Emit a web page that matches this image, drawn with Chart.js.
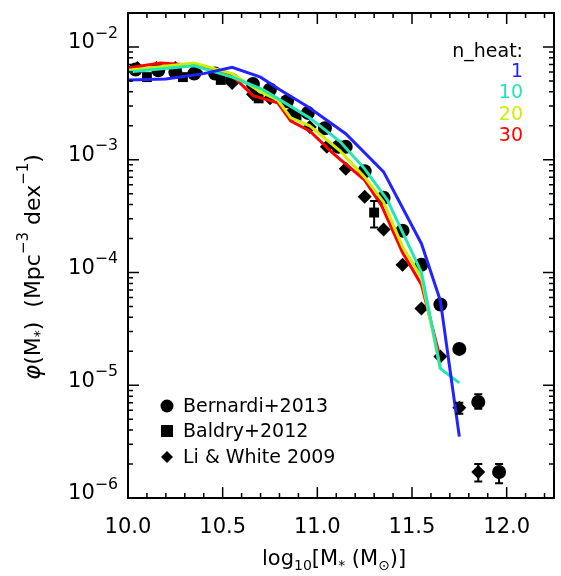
<!DOCTYPE html>
<html><head><meta charset="utf-8">
<script src="https://cdn.jsdelivr.net/npm/chart.js@4.4.0/dist/chart.umd.min.js"></script>
<style>html,body{margin:0;padding:0;background:#fff}#w{width:561px;height:576px}</style>
</head><body><div id="w"><canvas id="c"></canvas></div>
<script>
const blueX=[10.0,10.2,10.4,10.55,10.7,10.8,10.95,11.15,11.35,11.55,11.65,11.75];
const blueY=[5.1e-3,5.2e-3,5.8e-3,6.6e-3,5.4e-3,4.2e-3,2.95e-3,1.7e-3,7.8e-4,1.8e-4,5.6e-5,3.5e-6];
const cyanX=[10.0,10.35,10.55,10.71,10.79,10.96,11.12,11.25,11.37,11.55,11.65,11.75];
const cyanY=[6.0e-3,6.8e-3,5.4e-3,4.2e-3,3.5e-3,2.35e-3,1.45e-3,8.3e-4,4.4e-4,1.0e-4,1.4e-5,1.05e-5];
const yelX=[10.0,10.35,10.55,10.7,10.79,10.86,10.96,11.12,11.25,11.35,11.45,11.55,11.65];
const yelY=[6.2e-3,7.2e-3,5.8e-3,4.0e-3,3.4e-3,2.35e-3,2.0e-3,1.2e-3,7.0e-4,4.2e-4,1.7e-4,9.0e-5,1.4e-5];
const redX=[10.0,10.17,10.35,10.55,10.66,10.79,10.86,10.96,11.08,11.25,11.34,11.45,11.55,11.64];
const redY=[6.5e-3,7.2e-3,6.9e-3,5.6e-3,3.7e-3,3.2e-3,2.2e-3,1.8e-3,1.15e-3,6.6e-4,3.9e-4,1.5e-4,7.8e-5,2.0e-5];
const berX=[10.04,10.16,10.25,10.35,10.46,10.55,10.66,10.75,10.84,10.95,11.04,11.11,11.15,11.25,11.35,11.45,11.55,11.65,11.75,11.85,11.96];
const berY=[6.3e-3,6.2e-3,6.0e-3,5.8e-3,5.8e-3,5.1e-3,4.7e-3,4.2e-3,3.3e-3,2.6e-3,1.9e-3,1.3e-3,1.3e-3,7.9e-4,4.6e-4,2.35e-4,1.17e-4,5.2e-5,2.1e-5,7.1e-6,1.7e-6];
const balX=[10.10,10.29,10.49,10.69,10.89,11.30];
const balY=[5.4e-3,5.4e-3,5.1e-3,3.5e-3,2.45e-3,3.4e-4];
const liX=[10.05,10.15,10.25,10.36,10.55,10.66,10.75,10.86,10.96,11.05,11.15,11.25,11.35,11.45,11.55,11.65,11.75,11.85];
const liY=[6.5e-3,6.5e-3,6.5e-3,6.0e-3,4.8e-3,3.8e-3,3.5e-3,2.6e-3,1.95e-3,1.3e-3,8.3e-4,4.7e-4,2.4e-4,1.17e-4,4.8e-5,1.8e-5,6.3e-6,1.7e-6];
// error bars: [x, low, high]
const errBars=[[11.85,6.2e-6,8.3e-6],[11.96,1.35e-6,2.0e-6],[11.30,2.5e-4,4.3e-4],[11.85,1.4e-6,2.0e-6],[11.75,5.6e-6,7e-6]];
const xTicks=[10.0,10.5,11.0,11.5,12.0];
const yTicks=[-2,-3,-4,-5,-6];
const heatLabels=["1","10","20","30"];
const heatColors=["#2323ff","#22e6b4","#ccf000","#ff0000"];

const pts=(xs,ys)=>xs.map((x,i)=>({x,y:ys[i]}));
const line=(xs,ys,c)=>({type:'line',data:pts(xs,ys),borderColor:c,borderWidth:3,pointRadius:0,fill:false,tension:0});
const sc=(xs,ys,s,r)=>({type:'scatter',data:pts(xs,ys),pointStyle:s,pointRadius:r,backgroundColor:'#000',borderColor:'#000',borderWidth:0});
const F='"DejaVu Sans", sans-serif';

function sup(ctx,base,ex,x,y,size){
  ctx.font=size+'px '+F; const bw=ctx.measureText(base).width;
  ctx.font=(size*0.75)+'px '+F; const ew=ctx.measureText(ex).width;
  let sx = x-bw-ew;
  ctx.font=size+'px '+F; ctx.textAlign='left'; ctx.fillText(base,sx,y);
  ctx.font=(size*0.75)+'px '+F; ctx.fillText(ex,sx+bw,y-size*0.45);
}
const deco={id:'deco',afterDraw(ch){
  const ctx=ch.ctx,a=ch.chartArea,xs=ch.scales.x,ys=ch.scales.y;
  ctx.save();ctx.strokeStyle='#000';ctx.fillStyle='#000';ctx.lineWidth=2;
  ctx.strokeRect(a.left,a.top,a.right-a.left,a.bottom-a.top);
  ctx.lineWidth=1.5;ctx.beginPath();
  for(let i=0;i<=22;i++){const v=10+i*0.1;const p=xs.getPixelForValue(v);const L=(i%5===0)?11:5;
    ctx.moveTo(p,a.bottom);ctx.lineTo(p,a.bottom-L);ctx.moveTo(p,a.top);ctx.lineTo(p,a.top+L);}
  for(let d=-6;d<=-2;d++){for(let m=1;m<=9;m++){const v=m*Math.pow(10,d);if(v>ys.max)continue;const p=ys.getPixelForValue(v);const L=m===1?11:5;
    ctx.moveTo(a.left,p);ctx.lineTo(a.left+L,p);ctx.moveTo(a.right,p);ctx.lineTo(a.right-L,p);}}
  ctx.stroke();
  ctx.lineWidth=2;ctx.beginPath();
  errBars.forEach(e=>{const px=xs.getPixelForValue(e[0]),lo=ys.getPixelForValue(e[1]),hi=ys.getPixelForValue(e[2]);
    ctx.moveTo(px,lo);ctx.lineTo(px,hi);ctx.moveTo(px-4,lo);ctx.lineTo(px+4,lo);ctx.moveTo(px-4,hi);ctx.lineTo(px+4,hi);});
  ctx.stroke();
  ctx.textBaseline='middle';
  ctx.font='21px '+F;ctx.textAlign='center';
  xTicks.forEach(t=>ctx.fillText(t.toFixed(1),xs.getPixelForValue(t),a.bottom+30));
  yTicks.forEach(t=>{const p=ys.getPixelForValue(Math.pow(10,t));sup(ctx,'10','\u2212'+(-t),a.left-10,p-4,21);});
  ctx.font='21px '+F;ctx.textAlign='left';
  let tx=262,ty=560; ctx.fillText('log',tx,ty);tx+=ctx.measureText('log').width;
  ctx.font='14px '+F;ctx.fillText('10',tx,ty+6);tx+=ctx.measureText('10').width;
  ctx.font='21px '+F;ctx.fillText('[M',tx,ty);tx+=ctx.measureText('[M').width;
  ctx.font='14px '+F;ctx.fillText('*',tx,ty+6);tx+=ctx.measureText('*').width;
  ctx.font='21px '+F;ctx.fillText(' (M',tx,ty);tx+=ctx.measureText(' (M').width;
  ctx.font='14px '+F;ctx.fillText('\u2299',tx,ty+6);tx+=ctx.measureText('\u2299').width;
  ctx.font='21px '+F;ctx.fillText(')]',tx,ty);
  ctx.save();ctx.translate(34,255);ctx.rotate(-Math.PI/2);
  let yx=-125,yy=0;ctx.font='italic 23px '+F;ctx.fillText('\u03c6',yx,yy);yx+=ctx.measureText('\u03c6').width;
  ctx.font='22px '+F;ctx.fillText('(M',yx,yy);yx+=ctx.measureText('(M').width;
  ctx.font='14px '+F;ctx.fillText('*',yx,yy+6);yx+=ctx.measureText('*').width;
  ctx.font='22px '+F;ctx.fillText(')  (Mpc',yx,yy);yx+=ctx.measureText(')  (Mpc').width;
  ctx.font='15px '+F;ctx.fillText('\u22123',yx,yy-10);yx+=ctx.measureText('\u22123').width;
  ctx.font='22px '+F;ctx.fillText(' dex',yx,yy);yx+=ctx.measureText(' dex').width;
  ctx.font='15px '+F;ctx.fillText('\u22121',yx,yy-10);yx+=ctx.measureText('\u22121').width;
  ctx.font='22px '+F;ctx.fillText(')',yx,yy);
  ctx.restore();
  ctx.font='19px '+F;ctx.textAlign='left';
  const lg=[['Bernardi+2013',406,'c'],['Baldry+2012',431,'s'],['Li & White 2009',457,'d']];
  lg.forEach(l=>{const sx=167,sy=l[1];ctx.beginPath();
    if(l[2]==='c')ctx.arc(sx,sy,6.5,0,7);else if(l[2]==='s')ctx.rect(sx-6,sy-6,12,12);
    else{ctx.moveTo(sx,sy-6);ctx.lineTo(sx+6,sy);ctx.lineTo(sx,sy+6);ctx.lineTo(sx-6,sy);ctx.closePath();}
    ctx.fill();ctx.fillText(l[0],sx+16,sy+1);});
  ctx.textAlign='right';ctx.fillText('n_heat:',523,52);
  heatLabels.forEach((h,i)=>{ctx.fillStyle=heatColors[i];ctx.fillText(h,523,72+i*21.5);});
  ctx.restore();
}};
new Chart(document.getElementById('c'),{
  data:{datasets:[line(blueX,blueY,heatColors[0]),line(cyanX,cyanY,heatColors[1]),line(yelX,yelY,heatColors[2]),line(redX,redY,heatColors[3]),
    sc(berX,berY,'circle',7),sc(balX,balY,'rect',7),sc(liX,liY,'rectRot',7)]},
  options:{responsive:true,maintainAspectRatio:false,animation:false,
    layout:{padding:{top:13,right:3,left:0,bottom:0}},
    plugins:{legend:{display:false},tooltip:{enabled:false}},
    scales:{
      x:{type:'linear',min:10.0,max:12.25,grid:{display:false},border:{display:false},ticks:{display:false},afterFit(s){s.height=78;}},
      y:{type:'logarithmic',min:1e-6,max:2e-2,grid:{display:false},border:{display:false},ticks:{display:false},afterFit(s){s.width=128;}}
    }},
  plugins:[deco]
});
</script></body></html>
